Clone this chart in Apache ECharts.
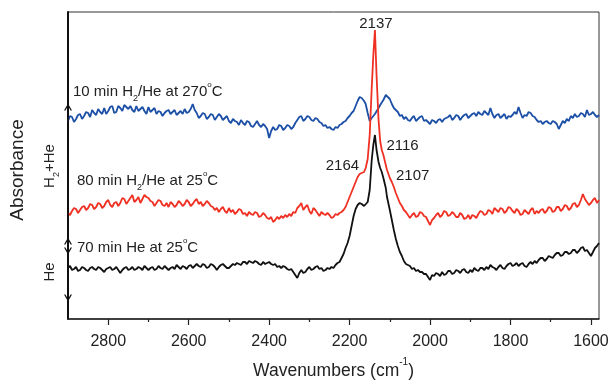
<!DOCTYPE html>
<html>
<head>
<meta charset="utf-8">
<script src="https://cdn.jsdelivr.net/npm/echarts@6/dist/echarts.min.js"></script>
<style>
  html, body { margin: 0; padding: 0; background: #fff; }
  #chart { width: 610px; height: 380px; }
</style>
</head>
<body>
<div id="chart"></div>
<script>
// IR spectra on a shared wavenumber grid (cm^-1), 5 cm^-1 spacing, denser across the CO band
const wavenumbers = [
  2900,2895,2890,2885,2880,2875,2870,2865,2860,2855,2850,2845,2840,2835,2830,2825,2820,2815,2810,2805,
  2800,2795,2790,2785,2780,2775,2770,2765,2760,2755,2750,2745,2740,2735,2730,2725,2720,2715,2710,2705,
  2700,2695,2690,2685,2680,2675,2670,2665,2660,2655,2650,2645,2640,2635,2630,2625,2620,2615,2610,2605,
  2600,2595,2590,2585,2580,2575,2570,2565,2560,2555,2550,2545,2540,2535,2530,2525,2520,2515,2510,2505,
  2500,2495,2490,2485,2480,2475,2470,2465,2460,2455,2450,2445,2440,2435,2430,2425,2420,2415,2410,2405,
  2400,2395,2390,2385,2380,2375,2370,2365,2360,2355,2350,2345,2340,2335,2330,2325,2320,2315,2310,2305,
  2300,2295,2290,2285,2280,2275,2270,2265,2260,2255,2250,2245,2240,2235,2230,2225,2220,2215,2210,2205,
  2200,2195,2190,2185,2180,2175,2170,2164,2160,2155,2150,2145,2141,2137,2133,2128,2124,2120,2116,2110,2107,2100,2095,
  2090,2085,2080,2075,2070,2065,2060,2055,2050,2045,2040,2035,2030,2025,2020,2015,2010,2005,
  2000,1995,1990,1985,1980,1975,1970,1965,1960,1955,1950,1945,1940,1935,1930,1925,1920,1915,1910,1905,
  1900,1895,1890,1885,1880,1875,1870,1865,1860,1855,1850,1845,1840,1835,1830,1825,1820,1815,1810,1805,
  1800,1795,1790,1785,1780,1775,1770,1765,1760,1755,1750,1745,1740,1735,1730,1725,1720,1715,1710,1705,
  1700,1695,1690,1685,1680,1675,1670,1665,1660,1655,1650,1645,1640,1635,1630,1625,1620,1615,1610,1605,
  1600,1595,1590,1585,1580
];

// 10 min H2/He at 270 C (offset absorbance)
const h2He270 = [
  1.98,2.03,2.02,1.97,2.00,2.04,2.05,2.00,2.03,2.07,2.06,2.02,2.09,2.06,2.04,2.10,2.07,2.05,2.11,2.05,
  2.08,2.12,2.13,2.06,2.07,2.13,2.11,2.08,2.14,2.12,2.10,2.13,2.09,2.07,2.13,2.08,2.10,2.12,2.08,2.05,
  2.12,2.07,2.09,2.11,2.05,2.08,2.07,2.03,2.06,2.08,2.09,2.05,2.07,2.09,2.04,2.06,2.08,2.05,2.10,2.06,
  2.07,2.10,2.15,2.09,2.06,2.01,2.03,2.06,2.05,2.00,2.02,2.05,2.04,1.99,2.02,2.05,2.03,1.99,2.01,2.03,
  1.98,1.96,2.00,1.98,1.97,1.94,1.99,1.96,1.94,1.98,1.97,1.93,1.92,1.95,1.98,1.94,1.92,1.95,1.93,1.90,
  1.81,1.88,1.92,1.89,1.90,1.94,1.93,1.89,1.91,1.94,1.93,1.90,1.92,1.96,1.99,2.02,2.03,1.98,2.00,2.03,
  2.02,1.99,1.98,2.01,2.00,1.97,1.96,1.93,1.94,1.91,1.92,1.90,1.89,1.92,1.91,1.94,1.95,1.97,1.98,2.01,
  2.03,2.06,2.08,2.13,2.18,2.22,2.21,2.18,2.15,2.06,1.98,2.01,2.03,2.05,2.07,2.11,2.14,2.16,2.19,2.24,2.25,2.20,2.15,
  2.11,2.09,2.07,2.03,2.04,2.00,2.02,1.99,1.98,2.01,2.03,1.98,2.00,2.02,2.03,1.98,1.99,1.97,
  1.95,1.99,1.98,1.96,1.99,2.00,1.97,2.00,2.01,2.02,2.04,1.99,2.01,2.04,2.03,1.99,2.02,2.04,2.05,2.01,
  2.03,2.05,2.06,2.03,2.07,2.05,2.04,2.08,2.06,2.04,2.11,2.05,2.01,2.04,2.05,2.01,2.03,2.05,2.00,2.03,
  2.02,2.04,2.07,2.05,2.12,2.06,2.01,2.04,2.03,2.07,2.06,2.03,2.02,1.99,1.97,1.98,1.95,1.97,1.98,1.96,
  1.95,1.98,1.97,1.95,1.90,1.94,1.98,1.96,2.00,1.98,2.03,2.01,2.05,2.02,2.03,2.06,2.05,2.02,2.09,2.04,
  2.05,2.07,2.04,2.02,2.04
];

// 80 min H2/He at 25 C
const h2He25 = [
  1.06,1.04,1.08,1.11,1.10,1.06,1.09,1.12,1.13,1.09,1.11,1.15,1.14,1.10,1.12,1.16,1.15,1.11,1.13,1.17,
  1.19,1.14,1.12,1.16,1.17,1.13,1.16,1.21,1.20,1.15,1.18,1.21,1.24,1.17,1.19,1.22,1.16,1.20,1.24,1.22,
  1.21,1.18,1.17,1.13,1.16,1.19,1.18,1.14,1.13,1.16,1.12,1.17,1.15,1.12,1.14,1.18,1.16,1.13,1.15,1.19,
  1.17,1.13,1.15,1.18,1.20,1.15,1.17,1.13,1.15,1.18,1.16,1.13,1.12,1.09,1.11,1.07,1.10,1.12,1.08,1.06,
  1.11,1.07,1.09,1.05,1.07,1.10,1.09,1.05,1.06,1.03,1.07,1.05,1.04,1.07,1.06,1.02,1.03,1.06,1.04,1.01,
  1.00,1.02,0.97,0.99,1.02,1.00,1.03,1.01,1.04,1.02,1.05,1.03,1.07,1.06,1.11,1.13,1.16,1.09,1.12,1.14,
  1.08,1.05,1.11,1.09,1.06,1.03,1.07,1.05,1.04,1.06,1.04,1.01,1.02,1.05,1.04,1.06,1.07,1.09,1.12,1.17,
  1.22,1.27,1.32,1.37,1.42,1.45,1.46,1.47,1.51,1.60,1.84,2.31,2.64,2.89,2.44,1.99,1.78,1.69,1.64,1.54,1.49,1.41,1.37,
  1.32,1.26,1.21,1.16,1.13,1.09,1.07,1.04,1.01,1.04,1.06,1.02,1.03,1.07,1.06,1.03,1.02,0.98,
  0.94,0.99,1.01,1.04,1.06,1.02,1.04,1.08,1.07,1.03,1.04,1.07,1.05,1.02,1.02,1.06,1.04,1.00,1.01,1.04,
  1.00,1.04,1.03,1.01,1.05,1.08,1.07,1.04,1.05,1.09,1.08,1.05,1.11,1.09,1.07,1.11,1.10,1.06,1.08,1.12,
  1.11,1.08,1.06,1.10,1.08,1.04,1.05,1.09,1.07,1.05,1.09,1.11,1.05,1.08,1.06,1.09,1.10,1.06,1.08,1.12,
  1.11,1.07,1.08,1.12,1.12,1.08,1.10,1.14,1.13,1.09,1.11,1.15,1.16,1.12,1.14,1.19,1.25,1.20,1.17,1.14,
  1.16,1.19,1.21,1.16,1.19
];

// 70 min He at 25 C
const he25 = [
  0.51,0.53,0.49,0.50,0.52,0.48,0.49,0.52,0.51,0.49,0.48,0.51,0.52,0.50,0.49,0.52,0.51,0.49,0.47,0.50,
  0.51,0.52,0.49,0.50,0.52,0.49,0.46,0.49,0.51,0.52,0.49,0.50,0.52,0.49,0.50,0.52,0.51,0.49,0.53,0.51,
  0.49,0.51,0.52,0.49,0.50,0.53,0.51,0.50,0.53,0.51,0.49,0.51,0.52,0.50,0.54,0.52,0.50,0.53,0.52,0.50,
  0.53,0.54,0.51,0.53,0.55,0.53,0.52,0.55,0.54,0.51,0.52,0.55,0.54,0.52,0.49,0.52,0.54,0.55,0.53,0.51,
  0.51,0.53,0.55,0.54,0.56,0.55,0.54,0.57,0.57,0.55,0.58,0.57,0.56,0.58,0.57,0.55,0.54,0.57,0.55,0.56,
  0.57,0.55,0.54,0.55,0.52,0.53,0.51,0.53,0.52,0.50,0.49,0.50,0.47,0.44,0.41,0.46,0.49,0.46,0.47,0.50,
  0.52,0.49,0.50,0.52,0.53,0.50,0.51,0.48,0.49,0.51,0.50,0.52,0.51,0.54,0.56,0.57,0.61,0.65,0.71,0.76,
  0.83,0.93,1.03,1.10,1.14,1.16,1.15,1.13,1.11,1.17,1.29,1.59,1.74,1.84,1.69,1.57,1.51,1.47,1.41,1.31,1.22,1.09,0.99,
  0.89,0.80,0.73,0.67,0.63,0.58,0.55,0.54,0.53,0.50,0.51,0.48,0.49,0.47,0.47,0.45,0.45,0.42,
  0.39,0.44,0.43,0.46,0.45,0.43,0.47,0.44,0.45,0.48,0.48,0.45,0.46,0.49,0.48,0.46,0.49,0.50,0.47,0.46,
  0.49,0.47,0.51,0.49,0.48,0.51,0.51,0.49,0.52,0.50,0.54,0.52,0.51,0.49,0.52,0.54,0.51,0.50,0.53,0.55,
  0.56,0.53,0.54,0.56,0.53,0.55,0.56,0.53,0.52,0.55,0.57,0.55,0.58,0.56,0.59,0.61,0.61,0.58,0.60,0.63,
  0.62,0.61,0.64,0.66,0.66,0.63,0.64,0.67,0.67,0.65,0.66,0.69,0.69,0.66,0.68,0.71,0.72,0.68,0.69,0.66,
  0.63,0.67,0.71,0.73,0.76
];

// labelled band positions on the 25 C H2/He spectrum
const bandPeaks = [2137, 2164, 2116, 2107];

// axis ticks
const majorTicks = [2800, 2600, 2400, 2200, 2000, 1800, 1600];
const minorTicks = [2700, 2500, 2300, 2100, 1900, 1700];

// vertical extents of the bracket arrows on the absorbance axis
const bracketH2He = [2.12, 0.68];
const bracketHe = [0.78, 0.21];

const FONT = 'Liberation Sans, Arial, sans-serif';
const TXT = '#222';

function pairs(values) {
  return wavenumbers.map((w, i) => [w, values[i]]);
}

const peakLabelPlacement = {
  2137: { position: 'top', distance: 0, offset: [1, 1] },
  2164: { position: 'left', distance: 5, offset: [0, -6] },
  2116: { position: 'right', distance: 3, offset: [0, -9] },
  2107: { position: 'right', distance: 9, offset: [0, 6] }
};

const peakMarks = bandPeaks.map(w => {
  const i = wavenumbers.indexOf(w);
  const p = peakLabelPlacement[w];
  return {
    coord: [w, h2He25[i]],
    value: w,
    label: { position: p.position, distance: p.distance, offset: p.offset }
  };
});

const chevron = 'path://M0,7 L4,0 L8,7 L6.6,7 L4,2.4 L1.4,7 Z';

const subStyle = { fontSize: 9, fontFamily: FONT, fill: TXT, color: TXT, verticalAlign: 'bottom', padding: [0, 0, -4, 0] };
const supStyle = { fontSize: 8, fontFamily: FONT, fill: TXT, color: TXT, verticalAlign: 'top', padding: [-4, 0, 0, 0] };
const richSet = { sub: subStyle, sup: supStyle };

function label(text, x, y, rotation) {
  return {
    type: 'text',
    x: x, y: y,
    rotation: rotation || 0,
    silent: true,
    z: 100,
    style: {
      text: text,
      fontSize: 15,
      fontFamily: FONT,
      fill: TXT,
      align: rotation ? 'center' : 'left',
      verticalAlign: 'middle',
      rich: richSet
    }
  };
}

const chart = echarts.init(document.getElementById('chart'), null, { renderer: 'canvas' });

chart.setOption({
  animation: false,
  backgroundColor: '#fff',
  grid: {
    left: 68, right: 11, top: 12, bottom: 61,
    containLabel: false, outerBoundsMode: 'none',
    show: true, borderColor: '#333', borderWidth: 1
  },
  xAxis: [
    {
      type: 'value', inverse: true, min: 1580, max: 2900, position: 'bottom',
      axisLine: { show: true, onZero: false, lineStyle: { color: '#222', width: 1.5 } },
      axisTick: { show: true, inside: false, length: 6, customValues: majorTicks, lineStyle: { color: '#222', width: 1.2 } },
      axisLabel: {
        customValues: majorTicks, fontSize: 16, color: TXT, fontFamily: FONT, margin: 15,
        formatter: v => String(v)
      },
      splitLine: { show: false },
      name: 'Wavenumbers (cm{sup|-1})',
      nameLocation: 'middle',
      nameGap: 43,
      nameTextStyle: {
        fontSize: 17.5, color: TXT, fontFamily: FONT,
        rich: { sup: { fontSize: 10, color: TXT, fontFamily: FONT, verticalAlign: 'top', padding: [-5, 0, 0, 0] } }
      }
    },
    {
      type: 'value', inverse: true, min: 1580, max: 2900, position: 'bottom',
      axisLine: { show: false, onZero: false },
      axisTick: { show: true, inside: false, length: 3, customValues: minorTicks, lineStyle: { color: '#222', width: 1.2 } },
      axisLabel: { show: false },
      splitLine: { show: false }
    }
  ],
  yAxis: {
    type: 'value', min: 0, max: 3.07,
    axisLine: { show: true, onZero: false, lineStyle: { color: '#111', width: 2 } },
    axisTick: { show: false },
    axisLabel: { show: false },
    splitLine: { show: false }
  },
  series: [
    {
      name: '10 min H2/He at 270C', type: 'line', data: pairs(h2He270),
      showSymbol: false, symbol: 'none',
      lineStyle: { color: '#1c4fa6', width: 1.8 }
    },
    {
      name: '80 min H2/He at 25C', type: 'line', data: pairs(h2He25),
      showSymbol: false, symbol: 'none',
      lineStyle: { color: '#ef3124', width: 1.8 },
      markPoint: {
        symbol: 'circle', symbolSize: 0, silent: true,
        label: { show: true, formatter: '{c}', fontSize: 15, color: TXT, fontFamily: FONT },
        data: peakMarks
      }
    },
    {
      name: '70 min He at 25C', type: 'line', data: pairs(he25),
      showSymbol: false, symbol: 'none',
      lineStyle: { color: '#111', width: 1.8 },
      markLine: {
        silent: true,
        symbol: [chevron, chevron],
        symbolSize: [8, 7],
        label: { show: false },
        lineStyle: { color: '#111', width: 1.5, type: 'solid' },
        data: [
          [{ coord: [2900, bracketH2He[0]] }, { coord: [2900, bracketH2He[1]] }],
          [{ coord: [2900, bracketHe[0]] }, { coord: [2900, bracketHe[1]] }]
        ]
      }
    }
  ],
  graphic: [
    label('10 min H{sub|2}/He at 270{sup|o}C', 73, 92),
    label('80 min H{sub|2}/He at 25{sup|o}C', 77, 181),
    label('70 min He at 25{sup|o}C', 77, 248),
    {
      type: 'text', x: 18, y: 170, rotation: Math.PI / 2, silent: true,
      style: { text: 'Absorbance', fontSize: 19, fontFamily: FONT, fill: TXT, align: 'center', verticalAlign: 'middle' }
    },
    label('H{sub|2}+He', 50, 166, Math.PI / 2),
    label('He', 50, 272, Math.PI / 2)
  ]
});
</script>
</body>
</html>
